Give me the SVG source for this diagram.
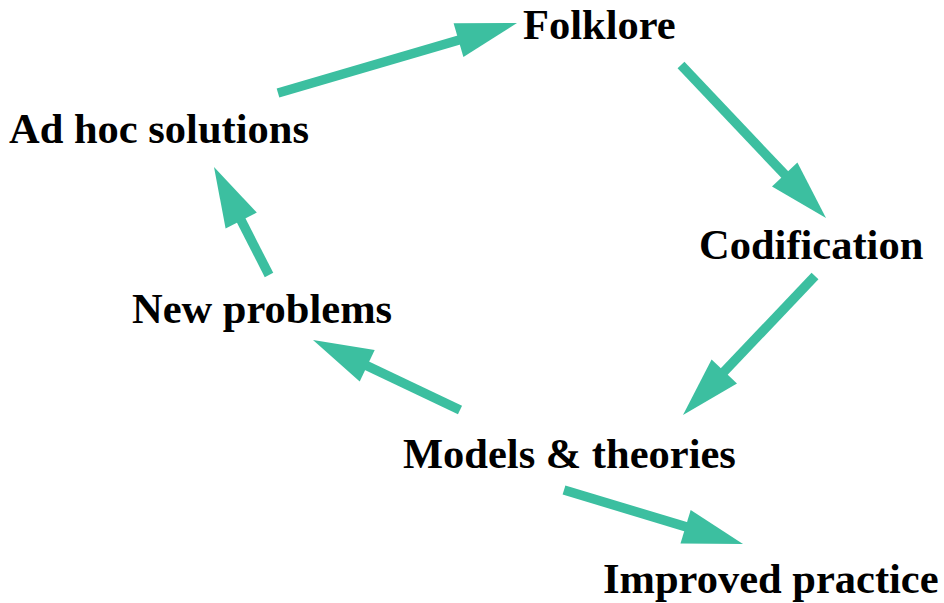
<svg xmlns="http://www.w3.org/2000/svg" width="944" height="603" viewBox="0 0 944 603">
<style>
.lbl{font-family:"Liberation Serif","Times New Roman",serif;font-weight:bold;font-size:42.5px;fill:#000}
.shaft{stroke:#3cbfa0;stroke-width:9.5;fill:none;stroke-linecap:butt}
.head{fill:#3cbfa0;stroke:none}
</style>
<rect width="944" height="603" fill="#fff"/>
<g id="connectors">
<g id="e-adhoc-folklore"><line class="shaft" x1="278" y1="93" x2="463.3" y2="38.7"/><polygon class="head" points="517,23 463.4,56.9 453.6,23.3"/></g>
<g id="e-folklore-codification"><line class="shaft" x1="681" y1="65" x2="788.1" y2="178.1"/><polygon class="head" points="826,218 772,186.5 797.4,162.5"/></g>
<g id="e-codification-models"><line class="shaft" x1="815" y1="276" x2="720.9" y2="375.1"/><polygon class="head" points="683,415 711.6,359.4 737,383.6"/></g>
<g id="e-newproblems-adhoc"><line class="shaft" x1="269" y1="275" x2="238.9" y2="216"/><polygon class="head" points="214,167 256.8,212.6 225.6,228.4"/></g>
<g id="e-models-newproblems"><line class="shaft" x1="460" y1="410" x2="362.7" y2="363.7"/><polygon class="head" points="313,340 374.7,350 359.7,381.6"/></g>
<g id="e-models-improved"><line class="shaft" x1="564" y1="490" x2="690.4" y2="528.1"/><polygon class="head" points="743,544 680.5,543.5 690.7,509.9"/></g>
</g>
<g id="n-folklore"><text class="lbl" x="523" y="39">Folklore</text></g>
<g id="n-codification"><text class="lbl" x="699" y="259">Codification</text></g>
<g id="n-models"><text class="lbl" x="403" y="468">Models &amp; theories</text></g>
<g id="n-newproblems"><text class="lbl" x="132" y="323">New problems</text></g>
<g id="n-adhoc"><text class="lbl" x="9" y="143">Ad hoc solutions</text></g>
<g id="n-improved"><text class="lbl" x="603" y="593">Improved practice</text></g>
</svg>
